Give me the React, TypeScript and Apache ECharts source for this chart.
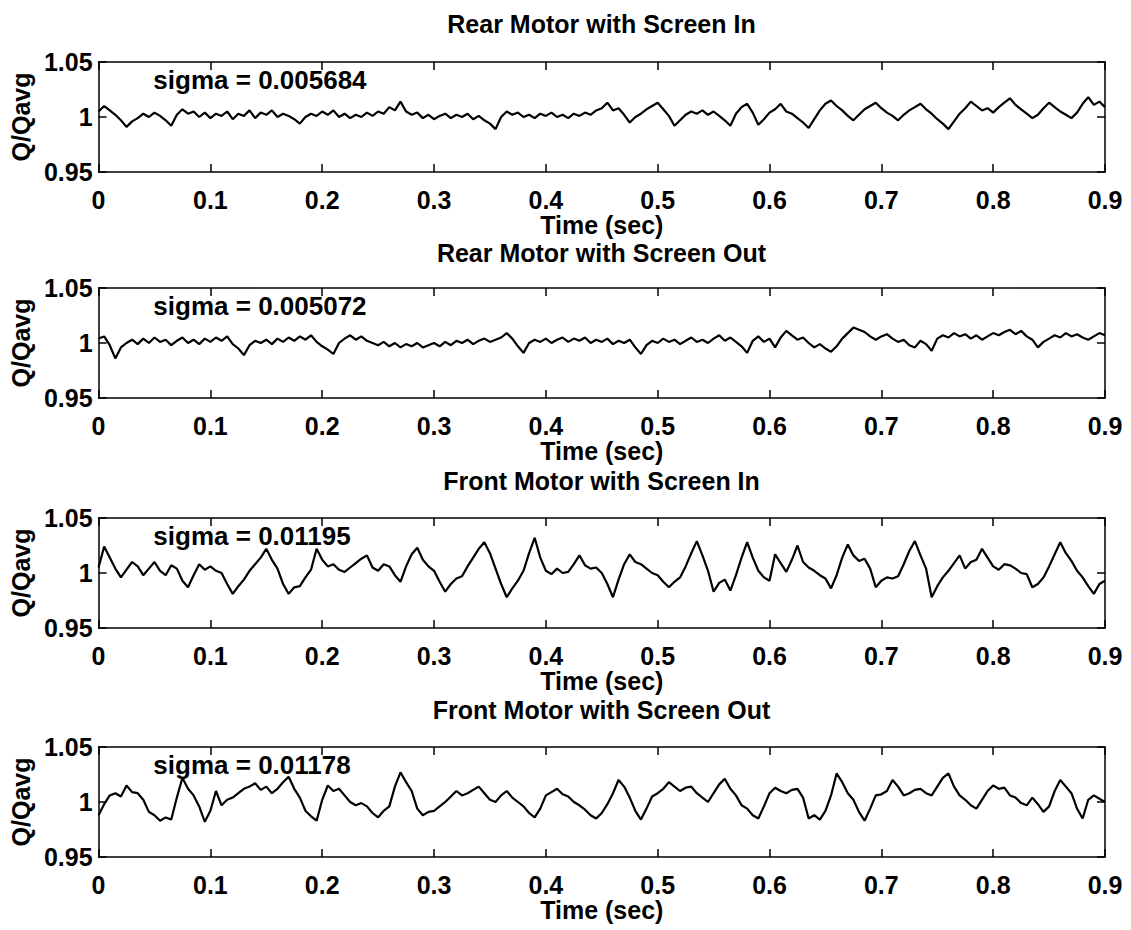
import React, { useEffect, useRef } from "react";
import * as echarts from "echarts";

const FONT = '"Liberation Sans", Arial, Helvetica, sans-serif';

const panelTitles = [
  "Rear Motor with Screen In",
  "Rear Motor with Screen Out",
  "Front Motor with Screen In",
  "Front Motor with Screen Out",
];
const sigmaLabels = [
  "sigma = 0.005684",
  "sigma = 0.005072",
  "sigma = 0.01195",
  "sigma = 0.01178",
];
const xTicks = [0, 0.1, 0.2, 0.3, 0.4, 0.5, 0.6, 0.7, 0.8, 0.9];
const yTicks = [0.95, 1, 1.05];
const sampleStep = 0.005; // s

const rearScreenIn = [
  1.005,1.010,1.006,1.002,0.997,0.991,0.996,0.999,1.003,1.000,
  1.004,1.001,0.997,0.992,1.002,1.007,1.003,1.005,1.000,1.004,
  0.999,1.003,1.001,1.005,0.998,1.003,1.001,1.006,0.999,1.004,
  1.002,1.006,1.000,1.003,1.001,0.998,0.994,1.000,1.003,1.001,
  1.005,1.002,1.006,1.000,1.003,0.999,1.002,1.000,1.004,1.001,
  1.005,1.003,1.009,1.006,1.014,1.005,1.002,1.004,0.999,1.002,
  0.998,1.001,1.003,0.999,1.002,1.000,1.003,0.998,1.001,0.997,
  0.994,0.989,1.000,1.005,1.002,1.004,1.000,1.002,0.999,1.003,
  1.001,1.004,1.000,1.002,0.999,1.003,1.001,1.004,1.002,1.006,
  1.008,1.013,1.006,1.008,1.002,0.995,1.000,1.003,1.007,1.010,
  1.013,1.007,1.001,0.992,0.997,1.002,1.005,1.003,1.006,1.002,
  1.005,1.001,0.997,0.992,1.003,1.009,1.012,1.004,0.993,0.998,
  1.004,1.007,1.012,1.005,1.003,0.999,0.995,0.990,0.998,1.006,
  1.012,1.015,1.010,1.006,1.001,0.997,1.002,1.007,1.010,1.013,
  1.008,1.004,1.001,0.997,1.002,1.006,1.009,1.012,1.007,1.003,
  0.998,0.994,0.989,0.996,1.003,1.008,1.014,1.010,1.006,1.008,
  1.004,1.009,1.013,1.017,1.011,1.007,1.003,0.999,1.002,1.008,
  1.013,1.009,1.005,1.002,0.999,1.004,1.012,1.018,1.011,1.014,
  1.009,
];

const rearScreenOut = [
  1.004,1.006,0.998,0.986,0.996,1.000,1.003,0.999,1.004,1.000,
  1.005,1.001,1.003,0.998,1.002,1.005,1.000,1.003,0.999,1.004,
  1.001,1.005,1.002,1.006,0.999,0.995,0.989,0.998,1.002,1.000,
  1.003,0.999,1.004,1.001,1.005,1.002,1.006,1.003,1.007,1.001,
  0.997,0.994,0.990,1.000,1.004,1.007,1.003,1.006,1.002,1.000,
  0.998,1.001,0.997,1.000,0.996,0.999,0.997,1.000,0.996,0.998,
  1.000,0.997,1.001,0.998,1.002,1.000,1.003,0.999,1.002,1.004,
  1.001,1.003,1.005,1.009,1.004,0.997,0.991,1.000,1.003,1.001,
  1.004,1.000,1.003,1.005,1.001,1.004,1.002,1.005,1.000,1.003,
  1.001,1.004,0.999,1.002,1.000,1.003,0.996,0.990,0.998,1.002,
  1.000,1.004,1.001,1.003,0.999,1.002,1.005,1.001,1.003,1.000,
  1.004,1.007,1.002,1.005,1.001,0.997,0.991,1.002,1.006,1.001,
  1.004,0.996,1.005,1.011,1.007,1.003,1.005,1.000,0.996,0.999,
  0.995,0.992,0.997,1.004,1.009,1.014,1.012,1.010,1.006,1.003,
  1.006,1.008,1.004,1.001,1.003,0.998,0.996,1.002,0.999,0.993,
  1.004,1.007,1.005,1.009,1.006,1.008,1.004,1.007,1.003,1.006,
  1.009,1.007,1.010,1.012,1.008,1.011,1.006,1.003,0.996,1.001,
  1.004,1.007,1.005,1.009,1.006,1.008,1.005,1.003,1.006,1.009,
  1.007,
];

const frontScreenIn = [
  1.005,1.024,1.014,1.004,0.996,1.003,1.010,1.006,0.998,1.004,
  1.010,1.002,0.998,1.007,1.004,0.993,0.987,0.998,1.008,1.003,
  1.006,1.002,1.000,0.990,0.981,0.988,0.994,1.002,1.008,1.014,
  1.022,1.012,1.004,0.990,0.981,0.987,0.988,0.996,1.003,1.022,
  1.012,1.006,1.008,1.003,1.001,1.005,1.009,1.013,1.016,1.005,
  1.002,1.008,1.006,0.998,0.992,1.006,1.017,1.023,1.012,1.006,
  1.002,0.992,0.983,0.990,0.995,0.997,1.006,1.014,1.022,1.028,
  1.018,1.004,0.990,0.978,0.986,0.993,1.002,1.018,1.032,1.014,
  1.002,0.999,1.004,1.000,1.001,1.008,1.016,1.007,1.004,1.005,
  1.000,0.990,0.978,0.994,1.008,1.017,1.010,1.008,1.004,1.000,
  0.998,0.992,0.987,0.992,0.996,1.006,1.018,1.029,1.016,1.002,
  0.983,0.991,0.994,0.984,0.998,1.014,1.028,1.014,1.002,0.996,
  0.993,1.017,1.009,1.001,1.012,1.025,1.010,1.005,1.002,0.998,
  0.995,0.986,0.998,1.014,1.026,1.016,1.011,1.013,1.004,0.987,
  0.993,0.996,0.995,0.997,1.008,1.020,1.029,1.016,1.004,0.978,
  0.988,0.996,1.002,1.009,1.016,1.004,1.010,1.012,1.022,1.014,
  1.006,1.003,1.008,1.007,1.004,1.000,0.999,0.987,0.990,0.996,
  1.006,1.017,1.028,1.018,1.011,1.002,0.996,0.988,0.981,0.990,
  0.993,
];

const frontScreenOut = [
  0.988,0.998,1.006,1.008,1.005,1.015,1.009,1.008,1.002,0.991,
  0.988,0.983,0.986,0.984,1.004,1.022,1.012,1.006,0.996,0.982,
  0.992,1.010,0.997,1.002,1.004,1.008,1.012,1.014,1.017,1.011,
  1.014,1.008,1.012,1.018,1.023,1.012,1.004,0.992,0.987,0.983,
  1.002,1.015,1.010,1.012,1.006,1.000,0.997,0.999,0.996,0.990,
  0.986,0.992,0.996,1.014,1.027,1.018,1.010,0.994,0.988,0.991,
  0.992,0.996,1.000,1.005,1.010,1.006,1.008,1.011,1.014,1.008,
  1.002,1.000,1.006,1.010,1.004,1.000,0.996,0.990,0.986,0.994,
  1.006,1.009,1.012,1.007,1.005,1.000,0.997,0.993,0.988,0.985,
  0.990,0.998,1.008,1.020,1.014,1.004,0.992,0.984,0.994,1.005,
  1.008,1.012,1.018,1.014,1.010,1.013,1.014,1.008,1.004,1.000,
  1.008,1.016,1.021,1.012,1.006,0.997,0.994,0.988,0.985,0.996,
  1.008,1.013,1.010,1.008,1.011,1.012,1.004,0.985,0.988,0.984,
  0.992,1.006,1.026,1.018,1.008,1.002,0.991,0.983,0.994,1.006,
  1.007,1.010,1.020,1.014,1.006,1.008,1.011,1.012,1.008,1.006,
  1.014,1.022,1.026,1.014,1.006,1.002,0.997,0.994,1.002,1.010,
  1.015,1.012,1.013,1.006,1.004,0.999,0.997,1.004,0.998,0.991,
  0.996,1.010,1.020,1.014,1.008,0.994,0.985,1.002,1.006,1.003,
  1.000,
];

const panelSeries = [rearScreenIn, rearScreenOut, frontScreenIn, frontScreenOut];

// layout
const GRID_LEFT = 98;
const GRID_WIDTH = 1007;
const GRID_HEIGHT = 110;
const GRID_TOPS = [62, 288, 518, 747];
const TITLE_OFFSETS = [51, 48, 50, 50];

function buildOption() {
  const textBase = { fontFamily: FONT, fontSize: 25, fontWeight: "bold" as const, color: "#000" };
  const lineStyle = { color: "#000", width: 1.5 };
  const grid: any[] = [];
  const xAxis: any[] = [];
  const yAxis: any[] = [];
  const series: any[] = [];
  const title: any[] = [];

  GRID_TOPS.forEach((top, i) => {
    grid.push({ left: GRID_LEFT, width: GRID_WIDTH, top, height: GRID_HEIGHT });
    title.push({
      text: panelTitles[i],
      left: GRID_LEFT + GRID_WIDTH / 2,
      top: top - TITLE_OFFSETS[i],
      textAlign: "center",
      padding: 0,
      textStyle: textBase,
    });
    const common = {
      gridIndex: i,
      type: "value",
      min: xTicks[0],
      max: xTicks[xTicks.length - 1],
      interval: 0.1,
      splitLine: { show: false },
      axisLine: { show: true, onZero: false, lineStyle },
      axisTick: { show: true, inside: true, length: 8, lineStyle },
    };
    xAxis.push({
      ...common,
      position: "bottom",
      axisLabel: { ...textBase, margin: 15 },
      name: "Time (sec)",
      nameLocation: "middle",
      nameGap: 40,
      nameTextStyle: textBase,
    });
    xAxis.push({ ...common, position: "top", axisLabel: { show: false } });
    const ycommon = {
      gridIndex: i,
      type: "value",
      min: yTicks[0],
      max: yTicks[yTicks.length - 1],
      interval: 0.05,
      splitLine: { show: false },
      axisLine: { show: true, onZero: false, lineStyle },
      axisTick: { show: true, inside: true, length: 8, lineStyle },
    };
    yAxis.push({
      ...ycommon,
      position: "left",
      axisLabel: { ...textBase, margin: 6 },
      name: "Q/Qavg",
      nameLocation: "middle",
      nameRotate: 90,
      nameGap: 63,
      nameTextStyle: textBase,
    });
    yAxis.push({ ...ycommon, position: "right", axisLabel: { show: false } });

    const vals = panelSeries[i];
    series.push({
      type: "line",
      xAxisIndex: i * 2,
      yAxisIndex: i * 2,
      showSymbol: false,
      symbol: "none",
      silent: true,
      lineStyle: { color: "#000", width: 2.2 },
      data: vals.map((v, j) => [+(j * sampleStep).toFixed(3), v]),
      markPoint: {
        symbol: "circle",
        symbolSize: 0,
        silent: true,
        data: [
          {
            coord: [0.049, 1.0335],
            label: {
              show: true,
              position: "right",
              distance: 0,
              formatter: sigmaLabels[i],
              ...textBase,
              fontSize: 26,
            },
          },
        ],
      },
    });
  });

  return { animation: false, backgroundColor: "#fff", title, grid, xAxis, yAxis, series };
}

export default function App() {
  const ref = useRef<HTMLDivElement>(null);
  useEffect(() => {
    document.body.style.margin = "0";
    if (!ref.current) return;
    const chart = echarts.init(ref.current, undefined, { renderer: "svg" });
    chart.setOption(buildOption() as any);
    return () => chart.dispose();
  }, []);
  return <div ref={ref} style={{ width: 1131, height: 930 }} />;
}
